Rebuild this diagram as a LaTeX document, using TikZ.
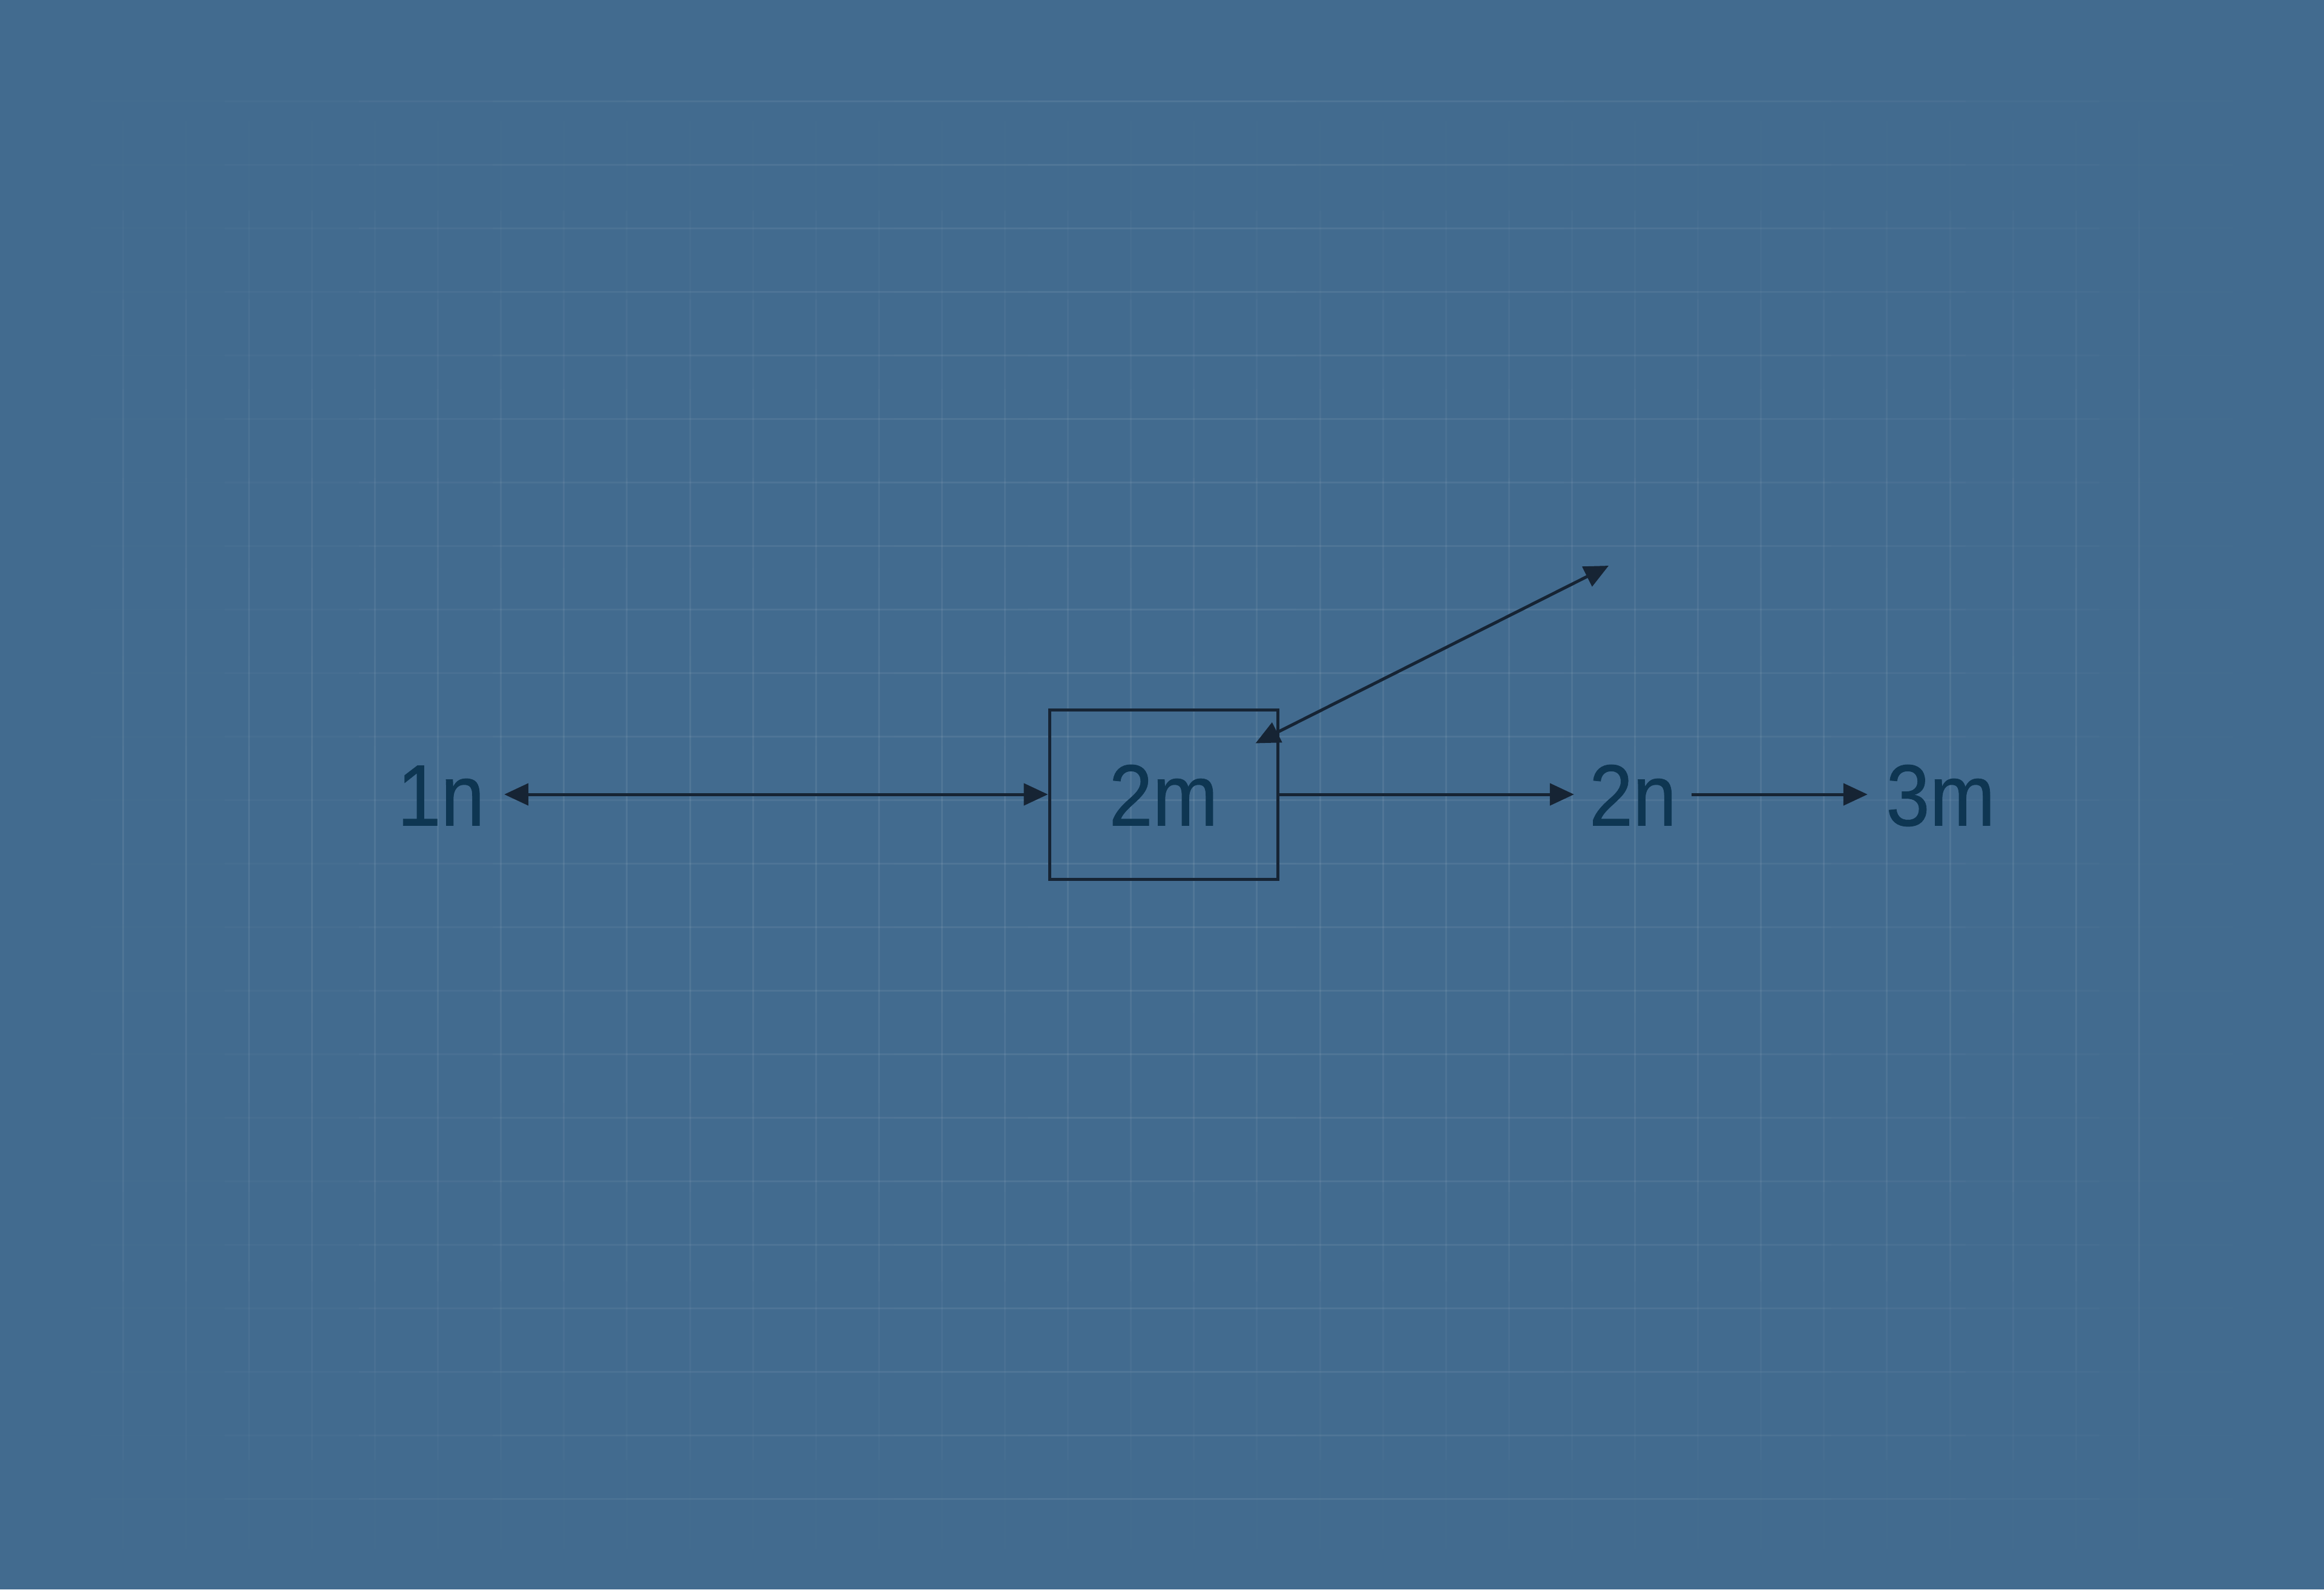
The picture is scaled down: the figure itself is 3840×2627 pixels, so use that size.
\documentclass[tikz,border=0pt]{standalone}
\usepackage{fontspec}
\newfontfamily\labfont[FakeStretch=0.9,FakeBold=0.6]{Liberation Sans}
\usetikzlibrary{arrows.meta}
\definecolor{bg}{RGB}{66,107,143}
\definecolor{ink}{RGB}{22,36,52}
\definecolor{txt}{RGB}{14,54,82}
\tikzset{
  lab/.style={font=\labfont\fontsize{144}{150}\selectfont, text=txt, inner sep=0pt,
              text height=103pt, text depth=0pt, align=center},
  boxnode/.style={draw=ink, line width=5pt, minimum width=377pt, minimum height=280pt},
  tipA/.tip={Triangle[length=40pt,width=36pt]},
  conn/.style={draw=ink, line width=5pt, -tipA},
  dconn/.style={draw=ink, line width=5pt, tipA-tipA},
  gridline/.style={white, line width=3pt}
}
\begin{document}
\begin{tikzpicture}[x=1pt,y=-1pt]
  \useasboundingbox (0,0) rectangle (3840,2627);
  \fill[bg] (0,0) rectangle (3840,2627);
  % faint background grid, fading towards the edges
  \foreach \k in {1,...,33} {
    \foreach \s in {0,...,15} {
      \pgfmathsetmacro{\op}{0.075*(1-((\s+0.5)/8-1)^2)}
      \draw[gridline, opacity=\op] ({99+104.1*\k},{200+147.5*\s}) -- ({99+104.1*\k},{200+147.5*(\s+1)});
    }
  }
  \foreach \k in {1,...,23} {
    \foreach \s in {0,...,15} {
      \pgfmathsetmacro{\op}{0.075*(1-((\s+0.5)/8-1)^2)}
      \draw[gridline, opacity=\op] ({150+221.25*\s},{62+105*\k}) -- ({150+221.25*(\s+1)},{62+105*\k});
    }
  }
  % nodes
  \node[lab, minimum width=209pt] (n1) at (728.5,1313) {1n};
  \node[lab, boxnode] (m2) at (1922.5,1313) {2m};
  \node[lab, minimum width=194pt] (n2) at (2698,1313) {2n};
  \node[lab, minimum width=241pt] (m3) at (3206.5,1313) {3m};
  \coordinate (up) at (2658,935);
  \coordinate (inb) at ([shift={(-39,58)}]m2.north east);
  % connectors
  \draw[dconn] (n1.east) -- (m2.west);
  \draw[conn] (m2.east) -- (n2.west);
  \draw[conn] (n2.east) -- (m3.west);
  \draw[dconn] (inb) -- (up);
\end{tikzpicture}
\end{document}
